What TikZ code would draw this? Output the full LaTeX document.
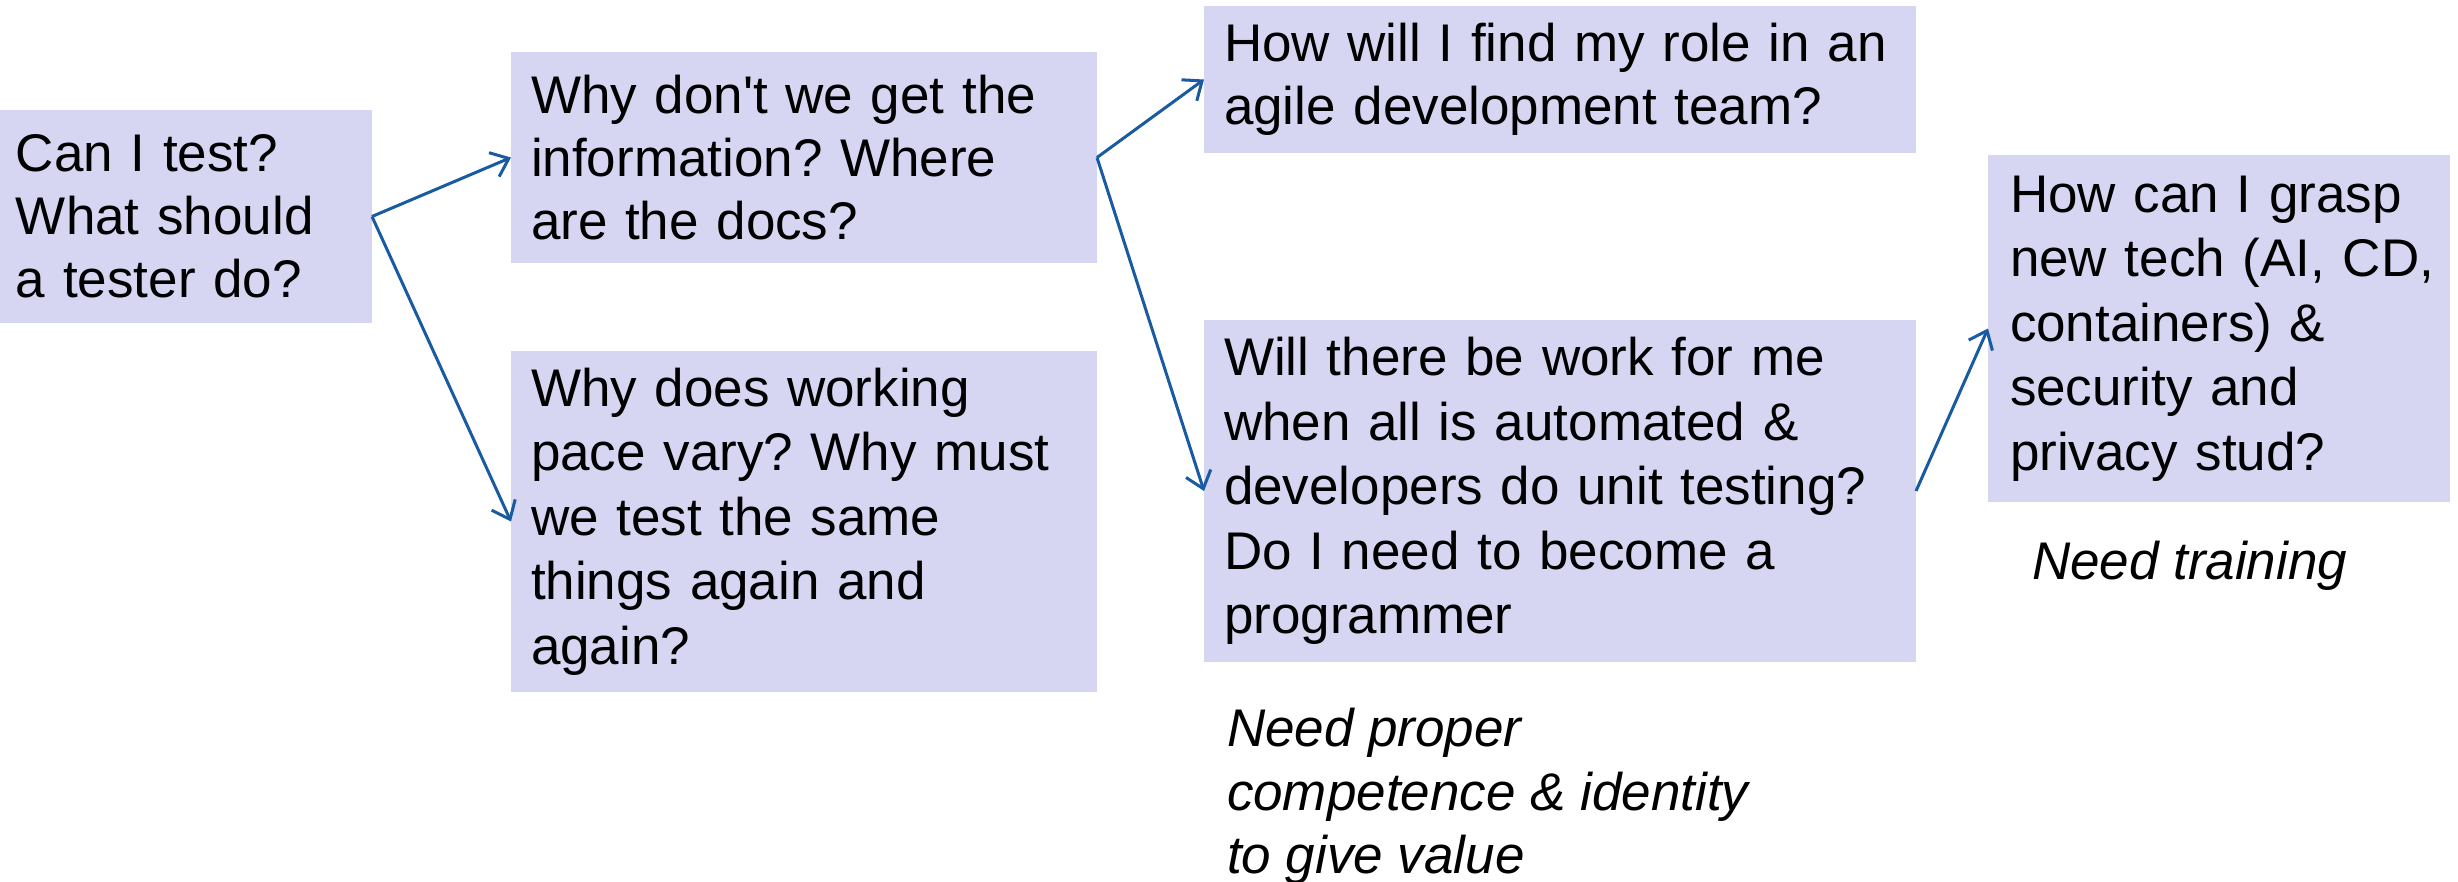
\documentclass[tikz,border=0pt]{standalone}
\usepackage{fontspec}
\setmainfont{Liberation Sans}
\frenchspacing
\usetikzlibrary{arrows.meta}
\definecolor{boxfill}{RGB}{214,214,243}
\definecolor{arrowblue}{RGB}{25,90,160}
\begin{document}
\begin{tikzpicture}[x=0.5pt,y=-0.5pt,
  qbox/.style={fill=boxfill, draw=none, inner xsep=10pt, inner ysep=0pt, outer sep=0pt,
    align=left, anchor=north west, font=\fontsize{26.5}{31.5}\selectfont},
  tallbox/.style={qbox, font=\fontsize{26.5}{32.2}\selectfont},
  note/.style={inner sep=0pt, outer sep=0pt, align=left, anchor=north west,
    font=\fontsize{26.5}{31.8}\selectfont\itshape},
  link/.style={draw=arrowblue, line width=1.5pt, -{Straight Barb[length=8pt,width=13pt]}}]
\useasboundingbox (0,0) rectangle (2458,882);
\node[qbox, inner xsep=8pt, minimum width=186pt, minimum height=106.5pt, text width=170pt] (b1) at (0,110)
  {Can I test?\\What should\\a tester do?};
\node[qbox, minimum width=293pt, minimum height=105.5pt, text width=273pt] (b2) at (511,52)
  {Why don\textquotesingle t we get the\\information? Where\\are the docs?};
\node[tallbox, minimum width=293pt, minimum height=170.5pt, text width=273pt] (b3) at (511,351)
  {Why does working\\pace vary? Why must\\we test the same\\things again and\\again?};
\node[qbox, minimum width=356pt, minimum height=73.5pt, text width=336pt] (b4) at (1204,6)
  {How will I find my role in an\\agile development team?};
\node[tallbox, minimum width=356pt, minimum height=171pt, text width=336pt] (b5) at (1204,320)
  {Will there be work for me\\when all is automated \&\\developers do unit testing?\\Do I need to become a\\programmer};
\node[tallbox, inner xsep=11pt, minimum width=231pt, minimum height=173.5pt, text width=209pt] (b6) at (1988,155)
  {How can I grasp\\\mbox{new tech (AI, CD,}\\containers) \&\\security and\\privacy stud?};
\node[note] (n1) at (1227,708) {Need proper\\competence \& identity\\to give value};
\node[note] (n2) at (2032,541) {Need training};
\draw[link] (b1.east) -- (b2.west);
\draw[link] (b1.east) -- (b3.west);
\draw[link] (b2.east) -- (b4.west);
\draw[link] (b2.east) -- (b5.west);
\draw[link] (b5.east) -- (b6.west);
\end{tikzpicture}
\end{document}
